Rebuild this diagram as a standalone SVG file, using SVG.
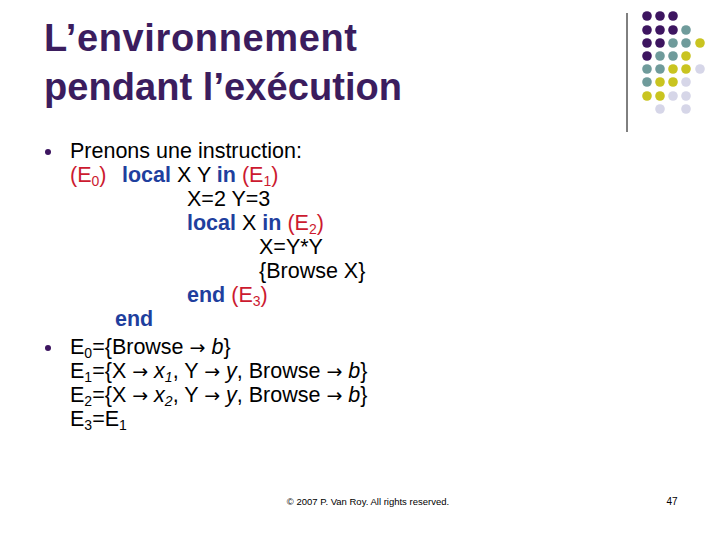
<svg xmlns="http://www.w3.org/2000/svg" width="720" height="540" viewBox="0 0 720 540">
<style>
text{font-family:"Liberation Sans",Arial,sans-serif;fill:#000}
.t{font-size:38px;font-weight:bold;fill:#3b1d5e}
.b{font-size:21.5px}
.k{fill:#1f3f9e;font-weight:bold}
.r{fill:#cc1a30}
.s{font-size:14px}
.a{font-family:"DejaVu Sans",sans-serif;font-size:19px}
.P{fill:#3d1560}.T{fill:#6f9b9b}.Y{fill:#c9c420}.L{fill:#d6d6e8}
</style>
<rect width="720" height="540" fill="#fff"/>
<g id="deco">
<line x1="627" y1="13" x2="627" y2="132" stroke="#000" stroke-width="1"/>
<g>
<circle class="P" cx="647" cy="16" r="4.8"/><circle class="P" cx="660" cy="16" r="4.8"/><circle class="P" cx="673" cy="16" r="4.8"/>
<circle class="P" cx="647" cy="30" r="4.8"/><circle class="P" cx="660" cy="30" r="4.8"/><circle class="P" cx="673" cy="30" r="4.8"/><circle class="T" cx="686" cy="30" r="4.8"/>
<circle class="P" cx="647" cy="43" r="4.8"/><circle class="P" cx="660" cy="43" r="4.8"/><circle class="T" cx="673" cy="43" r="4.8"/><circle class="T" cx="686" cy="43" r="4.8"/><circle class="Y" cx="700" cy="43" r="4.8"/>
<circle class="P" cx="647" cy="56" r="4.8"/><circle class="T" cx="660" cy="56" r="4.8"/><circle class="T" cx="673" cy="56" r="4.8"/><circle class="Y" cx="686" cy="56" r="4.8"/>
<circle class="T" cx="647" cy="69" r="4.8"/><circle class="T" cx="660" cy="69" r="4.8"/><circle class="Y" cx="673" cy="69" r="4.8"/><circle class="Y" cx="686" cy="69" r="4.8"/><circle class="L" cx="700" cy="69" r="4.8"/>
<circle class="T" cx="647" cy="82" r="4.8"/><circle class="Y" cx="660" cy="82" r="4.8"/><circle class="Y" cx="673" cy="82" r="4.8"/><circle class="L" cx="686" cy="82" r="4.8"/>
<circle class="Y" cx="647" cy="96" r="4.8"/><circle class="Y" cx="660" cy="96" r="4.8"/><circle class="L" cx="673" cy="96" r="4.8"/><circle class="L" cx="686" cy="96" r="4.8"/>
<circle class="L" cx="660" cy="109" r="4.8"/><circle class="L" cx="686" cy="109" r="4.8"/>
</g>
</g>
<g id="title">
<text class="t" x="44" y="51" textLength="313">L’environnement</text>
<text class="t" x="44" y="100" textLength="358">pendant l’exécution</text>
</g>
<g id="body">
<circle cx="48" cy="152" r="3" fill="#3d1560"/>
<circle cx="48" cy="348" r="3" fill="#3d1560"/>
<text class="b" x="70" y="158">Prenons une instruction:</text>
<text class="b" x="70" y="182"><tspan class="r">(E<tspan class="s" dy="4">0</tspan><tspan dy="-4">)</tspan></tspan><tspan class="k" x="122">local</tspan> X Y <tspan class="k">in</tspan> <tspan class="r">(E<tspan class="s" dy="4">1</tspan><tspan dy="-4">)</tspan></tspan></text>
<text class="b" x="187" y="206">X=2 Y=3</text>
<text class="b" x="187" y="230"><tspan class="k">local</tspan> X <tspan class="k">in</tspan> <tspan class="r">(E<tspan class="s" dy="4">2</tspan><tspan dy="-4">)</tspan></tspan></text>
<text class="b" x="259" y="254">X=Y*Y</text>
<text class="b" x="259" y="278">{Browse X}</text>
<text class="b" x="187" y="302"><tspan class="k">end</tspan> <tspan class="r">(E<tspan class="s" dy="4">3</tspan><tspan dy="-4">)</tspan></tspan></text>
<text class="b k" x="115" y="326">end</text>
<text class="b" x="70" y="354">E<tspan class="s" dy="4">0</tspan><tspan dy="-4">={Browse </tspan><tspan class="a">→</tspan> <tspan font-style="italic">b</tspan>}</text>
<text class="b" x="70" y="378">E<tspan class="s" dy="4">1</tspan><tspan dy="-4">={X </tspan><tspan class="a">→</tspan> <tspan font-style="italic">x<tspan class="s" dy="4">1</tspan></tspan><tspan dy="-4">, Y </tspan><tspan class="a">→</tspan> <tspan font-style="italic">y</tspan>, Browse <tspan class="a">→</tspan> <tspan font-style="italic">b</tspan>}</text>
<text class="b" x="70" y="402">E<tspan class="s" dy="4">2</tspan><tspan dy="-4">={X </tspan><tspan class="a">→</tspan> <tspan font-style="italic">x<tspan class="s" dy="4">2</tspan></tspan><tspan dy="-4">, Y </tspan><tspan class="a">→</tspan> <tspan font-style="italic">y</tspan>, Browse <tspan class="a">→</tspan> <tspan font-style="italic">b</tspan>}</text>
<text class="b" x="70" y="426">E<tspan class="s" dy="4">3</tspan><tspan dy="-4">=E</tspan><tspan class="s" dy="4">1</tspan></text>
</g>
<g id="footer">
<text x="368" y="505" font-size="9.5" text-anchor="middle">© 2007 P. Van Roy.  All rights reserved.</text>
<text x="672" y="505" font-size="10" text-anchor="middle">47</text>
</g>
</svg>
